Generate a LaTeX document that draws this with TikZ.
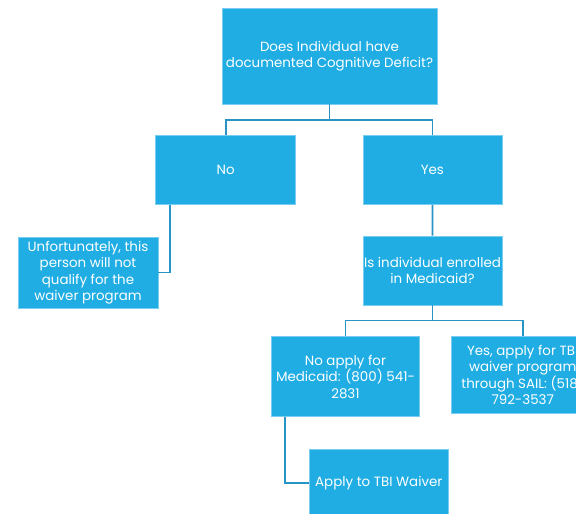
\documentclass[tikz,border=0pt]{standalone}
\usepackage{fontspec}
\setmainfont{Poppins}
\definecolor{boxblue}{RGB}{31,173,228}
\definecolor{boxedge}{RGB}{120,205,240}
\definecolor{linkblue}{RGB}{40,148,198}
\begin{document}
\begin{tikzpicture}[x=1pt,y=-1pt,
	box/.style={draw=boxedge,line width=0.8pt,fill=boxblue,text=white,align=center,font=\fontsize{13.4}{16.4}\selectfont,inner sep=0pt},
	link/.style={draw=linkblue,line width=1.8pt}]
	\useasboundingbox (0,0) rectangle (576,514);
	\clip (0,0) rectangle (576,514);
	\node[box,minimum width=215pt,minimum height=96pt] (deficit) at (329.5,56) {Does Individual have\\documented Cognitive Deficit?};
	\node[box,minimum width=140pt,minimum height=69pt] (no) at (225.7,170) {No};
	\node[box,minimum width=139pt,minimum height=69pt] (yes) at (432.4,170) {Yes};
	\node[box,minimum width=140pt,minimum height=71pt] (sorry) at (88,272.5) {Unfortunately, this\\person will not\\qualify for the\\waiver program};
	\node[box,minimum width=139pt,minimum height=69pt] (enrolled) at (432.5,270.5) {Is individual enrolled\\in Medicaid?};
	\node[box,minimum width=148pt,minimum height=80pt] (noapply) at (345.5,376.7) {No apply for\\Medicaid: (800) 541-\\2831};
	\node[box,minimum width=142pt,minimum height=77pt] (yesapply) at (522.7,375) {Yes, apply for TBI\\waiver program\\through SAIL: (518)\\792-3537};
	\node[box,minimum width=139pt,minimum height=67pt] (waiver) at (378.8,482.7) {Apply to TBI Waiver};
	%connectors
	\draw[link] (deficit.south) -- ++(0,15.7) -| (no.north);
	\draw[link] (deficit.south) -- ++(0,15.7) -| (yes.north);
	\draw[link] ([xshift=-55.7pt]no.south) |- (sorry.east);
	\draw[link] (yes.south) -- (enrolled.north);
	\draw[link] (enrolled.south) -- ++(0,15) -| (noapply.north);
	\draw[link] (enrolled.south) -- ++(0,15) -| (yesapply.north);
	\draw[link] ([xshift=-60.2pt]noapply.south) |- (waiver.west);
\end{tikzpicture}
\end{document}
